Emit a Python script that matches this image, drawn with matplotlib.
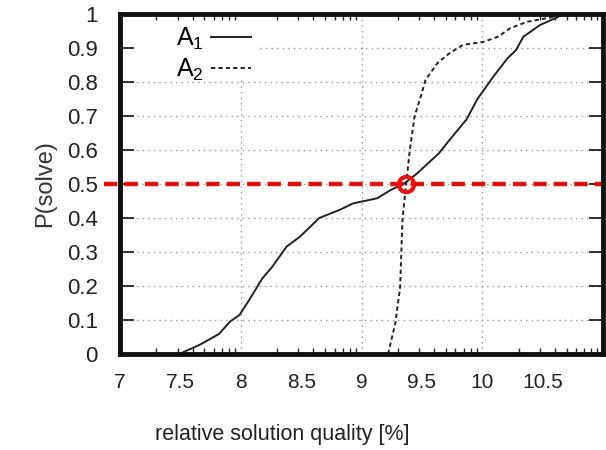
import matplotlib
matplotlib.use("Agg")
import matplotlib.pyplot as plt
import numpy as np
from matplotlib.ticker import FixedLocator

plt.rcParams["font.family"] = ["Liberation Sans", "DejaVu Sans"]
plt.rcParams["mathtext.fontset"] = "custom"
plt.rcParams["mathtext.rm"] = "Liberation Sans"

# A1 curve (solid)
a1_x = [7.49, 7.66, 7.82, 7.91, 7.99, 8.07, 8.18, 8.26, 8.38, 8.49, 8.65, 8.82,
        8.93, 9.13, 9.24, 9.36, 9.46, 9.64, 9.73, 9.87, 9.96, 10.09, 10.21,
        10.28, 10.34, 10.48, 10.62, 10.67]
a1_y = [0.0, 0.027, 0.059, 0.095, 0.115, 0.159, 0.223, 0.256, 0.316, 0.345,
        0.40, 0.424, 0.443, 0.458, 0.482, 0.503, 0.531, 0.59, 0.63, 0.69,
        0.75, 0.815, 0.87, 0.894, 0.933, 0.968, 0.99, 1.0]

# A2 curve (dashed)
a2_x = [9.22, 9.28, 9.32, 9.33, 9.34, 9.37, 9.40, 9.44, 9.49, 9.53, 9.63,
        9.73, 9.84, 10.01, 10.13, 10.23, 10.37, 10.57, 10.65]
a2_y = [0.0, 0.09, 0.197, 0.30, 0.40, 0.50, 0.60, 0.70, 0.756, 0.806, 0.856,
        0.885, 0.909, 0.918, 0.933, 0.958, 0.977, 0.99, 1.0]

x_labels = ["7", "7.5", "8", "8.5", "9", "9.5", "10", "10.5"]
x_label_pos = [7, 7.5, 8, 8.5, 9, 9.5, 10, 10.5]
y_ticks = [0, 0.1, 0.2, 0.3, 0.4, 0.5, 0.6, 0.7, 0.8, 0.9, 1]
y_labels = ["0", "0.1", "0.2", "0.3", "0.4", "0.5", "0.6", "0.7", "0.8", "0.9", "1"]
cross = (9.37, 0.5)

fig = plt.figure(figsize=(6.06, 4.5), dpi=100)
ax = fig.add_axes([120 / 606, 96 / 450, 483 / 606, 340 / 450])

# grid by hand, kept clear of the legend corner
grid = dict(color="#999999", ls=(0, (1, 3)), lw=1, zorder=1)
for gx in [8, 9, 10]:
    ax.axvline(gx, ymax=0.805 if gx == 8 else 1, **grid)
for gy in y_ticks[1:-1]:
    ax.axhline(gy, xmin=0.29 if gy == 0.9 else 0, **grid)

ax.plot(a1_x, a1_y, color="#222222", lw=1.4, label=r"$\mathrm{A}_\mathrm{1}$", zorder=3)
ax.plot(a2_x, a2_y, color="#222222", lw=1.4, ls=(0, (2.2, 1.6)),
        label=r"$\mathrm{A}_\mathrm{2}$", zorder=3)

ax.plot([6.87, 11.0], [0.5, 0.5], color="#dd1111", lw=3.2, ls=(0, (3, 1.6)),
        clip_on=False, zorder=4)
ax.plot(*cross, marker="o", ms=11, mfc="none", mec="#ee1111", mew=3, zorder=5)

ax.set_xlim(7, 11)
ax.set_ylim(0, 1)

ax.set_xticks(x_label_pos, x_labels)
ax.tick_params(axis="x", which="major", length=0, pad=14, labelsize=15,
               labelcolor="#222222")
minor = []
for n in range(7, 11):
    minor += [n + np.log10(k) for k in range(2, 10)]
minor += [8, 9, 10]
ax.xaxis.set_minor_locator(FixedLocator(minor))
ax.tick_params(axis="x", which="minor", direction="in", length=4, width=1,
               top=True, bottom=True, color="#222222")
for t, loc in zip(ax.xaxis.get_minor_ticks(), minor):
    if loc in (8, 9, 10):
        t.tick1line.set_markersize(9)
        t.tick2line.set_markersize(9)

ax.set_yticks(y_ticks, y_labels)
ax.tick_params(axis="y", direction="in", length=10, width=1.3, left=True,
               right=True, pad=16, labelsize=16, color="#222222",
               labelcolor="#222222")

for s in ax.spines.values():
    s.set_linewidth(3.5)
    s.set_color("#111111")
    s.set_zorder(6)

ax.set_xlabel("relative solution quality [%]", fontsize=15.5, color="#222222")
ax.xaxis.set_label_coords(0.335, -0.205)
ax.set_ylabel("P(solve)", fontsize=17, labelpad=8, color="#333333")

leg = ax.legend(loc="upper left", bbox_to_anchor=(0.105, 0.98), markerfirst=False,
                frameon=False, fontsize=18, handlelength=1.6, handletextpad=0.3,
                labelspacing=0.2, borderpad=0.2, borderaxespad=0.0)

fig.savefig("out.png", dpi=100)
